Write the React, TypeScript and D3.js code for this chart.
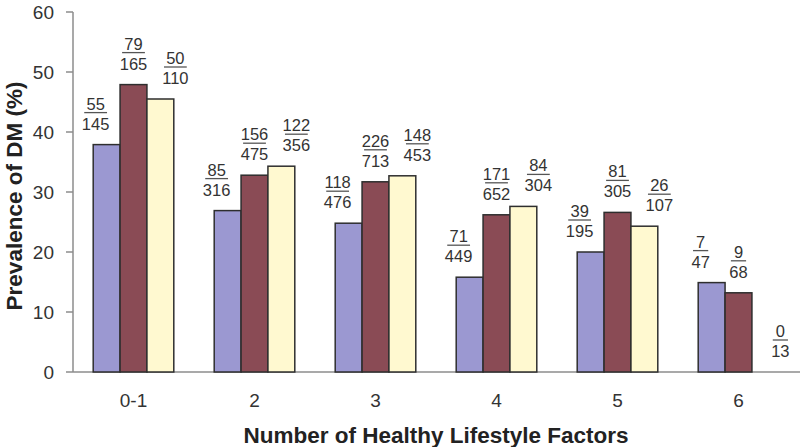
import React from "react";
import * as d3 from "d3";

const categories = ["0-1", "2", "3", "4", "5", "6"];
const seriesA = [37.9, 26.9, 24.8, 15.8, 20.0, 14.9];
const seriesB = [47.9, 32.8, 31.7, 26.2, 26.6, 13.2];
const seriesC = [45.5, 34.3, 32.7, 27.6, 24.3, 0];
const numA = ["55", "85", "118", "71", "39", "7"];
const denA = ["145", "316", "476", "449", "195", "47"];
const numB = ["79", "156", "226", "171", "81", "9"];
const denB = ["165", "475", "713", "652", "305", "68"];
const numC = ["50", "122", "148", "84", "26", "0"];
const denC = ["110", "356", "453", "304", "107", "13"];
const yTicks = [0, 10, 20, 30, 40, 50, 60];

const W = 800;
const H = 447;
const left = 73;
const right = 799;
const top = 12;
const bottom = 372;

const colors = ["#9b98d1", "#8a4b55", "#fff9d0"];
const labelShift = [-11, 0, 15];

export default function App() {
  const x = d3.scaleBand<string>().domain(categories).range([left, right]).padding(0);
  const y = d3.scaleLinear().domain([0, 60]).range([bottom, top]);
  const step = x.step();
  const barW = step * 0.222;
  const series = [seriesA, seriesB, seriesC];
  const nums = [numA, numB, numC];
  const dens = [denA, denB, denC];
  const font = "'Liberation Sans', Arial, Helvetica, sans-serif";

  return (
    <svg width={W} height={H} style={{ position: "absolute", left: 0, top: 0, background: "#fff" }}>
      {/* axes */}
      <line x1={left} x2={left} y1={top} y2={bottom} stroke="#8c8c8c" strokeWidth={1.5} />
      <line x1={left} x2={W} y1={bottom} y2={bottom} stroke="#8c8c8c" strokeWidth={1.5} />
      {yTicks.map((t) => (
        <g key={t}>
          <line x1={left - 7} x2={left} y1={y(t)} y2={y(t)} stroke="#8c8c8c" strokeWidth={1.5} />
          <text x={54} y={y(t)} dy="0.36em" textAnchor="end" fontFamily={font} fontSize={19} fill="#333">
            {t}
          </text>
        </g>
      ))}
      {/* bars */}
      {categories.map((c, i) => {
        const cx = (x(c) as number) + step / 2;
        return (
          <g key={c}>
            {series.map((s, k) => {
              const bx = cx - 1.5 * barW + k * barW;
              const v = s[i];
              const yt = y(v);
              const lx = bx + barW / 2 + labelShift[k];
              const denY = yt - 15;
              const lineY = denY - 17;
              const numY = lineY - 3;
              const lw = Math.max(dens[k][i].length, nums[k][i].length) * 7.6;
              return (
                <g key={k}>
                  {v > 0 && (
                    <rect x={bx} y={yt} width={barW} height={bottom - yt} fill={colors[k]} stroke="#2e2e2e" strokeWidth={1.5} />
                  )}
                  <text x={lx} y={numY} textAnchor="middle" fontFamily={font} fontSize={16.5} fill="#333">
                    {nums[k][i]}
                  </text>
                  <line x1={lx - lw / 2} x2={lx + lw / 2} y1={lineY} y2={lineY} stroke="#555" strokeWidth={1.3} />
                  <text x={lx} y={denY} textAnchor="middle" fontFamily={font} fontSize={16.5} fill="#333">
                    {dens[k][i]}
                  </text>
                </g>
              );
            })}
            <text x={cx} y={400} dy="0.36em" textAnchor="middle" fontFamily={font} fontSize={19} fill="#333">
              {c}
            </text>
          </g>
        );
      })}
      <text x={436} y={435} dy="0.36em" textAnchor="middle" fontFamily={font} fontSize={22.5} fontWeight="bold" fill="#222">
        Number of Healthy Lifestyle Factors
      </text>
      <text
        transform={`translate(14,196) rotate(-90)`}
        dy="0.36em"
        textAnchor="middle"
        fontFamily={font}
        fontSize={22.5}
        fontWeight="bold"
        fill="#222"
      >
        Prevalence of DM (%)
      </text>
    </svg>
  );
}
